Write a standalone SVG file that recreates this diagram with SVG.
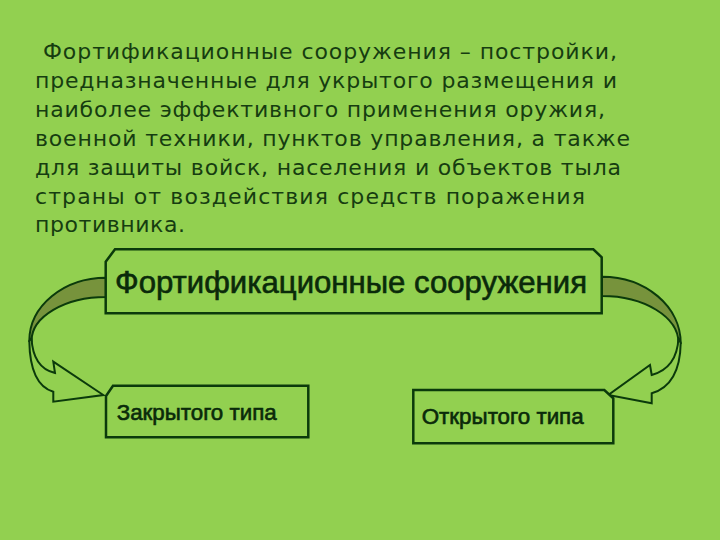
<svg xmlns="http://www.w3.org/2000/svg" width="720" height="540" viewBox="0 0 720 540">
<style>
.para{font-family:"DejaVu Sans","Verdana",sans-serif;font-size:22px;fill:#163d10}
.lbl{font-family:"Liberation Sans",Arial,sans-serif;fill:#0a2a0a;stroke:#0a2a0a;stroke-width:0.6}
.box{fill:#92d050;stroke:#0b3a0b;stroke-width:2.5;stroke-linejoin:miter}
.band{fill:#77933c;stroke:#0b3a0b;stroke-width:2}
.face{fill:#92d050;stroke:#0b3a0b;stroke-width:2;stroke-linejoin:miter}
</style>
<rect width="720" height="540" fill="#92d050"/>
<g id="description">
<text class="para" x="43" y="59" textLength="574" lengthAdjust="spacing">Фортификационные сооружения – постройки,</text>
<text class="para" x="35" y="88" textLength="582" lengthAdjust="spacing">предназначенные для укрытого размещения и</text>
<text class="para" x="35" y="117" textLength="570" lengthAdjust="spacing">наиболее эффективного применения оружия,</text>
<text class="para" x="35" y="146" textLength="595" lengthAdjust="spacing">военной техники, пунктов управления, а также</text>
<text class="para" x="35" y="175" textLength="586" lengthAdjust="spacing">для защиты войск, населения и объектов тыла</text>
<text class="para" x="35" y="204" textLength="550" lengthAdjust="spacing">страны от воздействия средств поражения</text>
<text class="para" x="35" y="232" textLength="150" lengthAdjust="spacing">противника.</text>
</g>
<g id="connectors">
<g id="arrow-left">
<path class="band" d="M106,277.7 A76.7,63.3 0 0 0 29.3,341 L31.5,341 A74.5,44 0 0 1 106,297 Z"/>
<path class="face" d="M29.3,341 Q30,385 53.3,391.7 L53.3,401.7 L103.3,395 L53.3,361.7 L55,373 Q33,368 31.5,338 Z"/>
</g>
<g id="arrow-right">
<path class="band" d="M602,276.7 A78.7,66.3 0 0 1 680.7,343 L678.5,343 A76.5,47 0 0 0 602,296 Z"/>
<path class="face" d="M680.7,343 Q680,385 651.7,393.3 L651.7,403.3 L608.3,395 L650,365 L651.7,375 Q677,368 678.5,338 Z"/>
</g>
</g>
<g id="node-main">
<path class="box" d="M105.7,261.7 L115,249.3 L593.3,249.3 L601.7,257.3 L601.7,313.3 L105.7,313.3 Z"/>
<text class="lbl" x="115" y="293" font-size="30.5" textLength="472" lengthAdjust="spacingAndGlyphs">Фортификационные сооружения</text>
</g>
<g id="node-closed">
<path class="box" d="M106,396 L113,385.7 L308.3,385.7 L308.3,437.3 L106,437.3 Z"/>
<text class="lbl" x="116.7" y="420" font-size="21.5" textLength="160" lengthAdjust="spacingAndGlyphs">Закрытого типа</text>
</g>
<g id="node-open">
<path class="box" d="M413.3,390 L604.3,390 L613.3,398.3 L613.3,443.3 L413.3,443.3 Z"/>
<text class="lbl" x="421.7" y="424" font-size="21.5" textLength="162" lengthAdjust="spacingAndGlyphs">Открытого типа</text>
</g>
</svg>
